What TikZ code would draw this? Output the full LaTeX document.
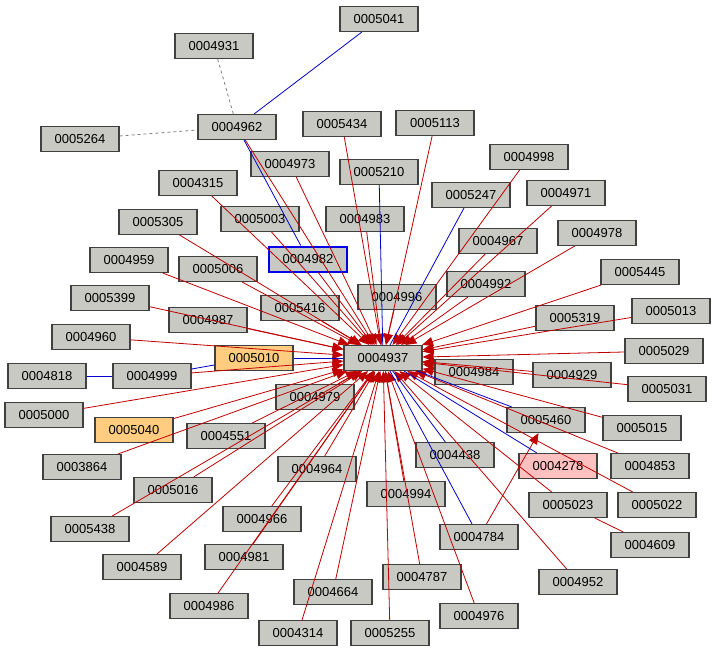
\documentclass[tikz,border=0pt]{standalone}
\usepackage{fontspec}
\setmainfont{Liberation Sans}
\usetikzlibrary{arrows.meta}
\begin{document}
\begin{tikzpicture}[x=1pt,y=-1pt,
 n/.style={draw=black!75,line width=1.1pt,fill={rgb,255:red,200;green,201;blue,194},minimum width=78pt,minimum height=25pt,inner sep=0pt,font=\fontsize{13}{15}\selectfont},
 r/.style={draw={rgb,255:red,192;green,0;blue,0},line width=0.8pt,-{Triangle[length=11pt,width=9pt]}},
 rr/.style={draw={rgb,255:red,192;green,0;blue,0},line width=0.8pt},
 b/.style={draw={rgb,255:red,0;green,0;blue,204},line width=0.8pt},
 d/.style={draw=gray,line width=0.8pt,dashed}]
\useasboundingbox (0,0) rectangle (718,654);
\node[n] (c) at (383,358) {0004937};
\foreach \nm/\x/\y in {0005041/379/19,0004931/214/46,0004962/237/127,0005264/80/139,0005434/342/124,0005113/435/123,0004973/290/164,0004998/529/157,0004315/198/183,0005210/379/172,0005247/471/195,0004971/566/193,0005305/158/222,0005003/260/219,0004983/365/219,0004967/498/241,0004978/597/233,0004959/129/260,0005006/218/269,0004992/486/284,0005445/640/272,0005399/110/298,0004996/397/297,0005416/300/308,0005013/671/311,0004987/208/320,0005319/575/318,0004960/91/337,0005029/664/351,0004818/47/376,0004999/152/376,0004984/474/372,0004929/572/375,0005031/667/389,0005000/44/415,0004979/315/397,0004551/226/436,0005460/546/420,0005015/642/428,0004438/455/455,0003864/82/467,0004964/317/469,0004853/650/466,0005016/173/490,0004994/406/494,0005023/568/505,0005022/657/505,0005438/90/529,0004966/262/519,0004784/479/537,0004609/650/545,0004589/142/567,0004981/244/557,0004787/422/577,0004952/578/582,0004986/209/606,0004664/333/592,0004976/479/616,0004314/298/633,0005255/390/633}
  {\node[n] (n\nm) at (\x,\y) {\nm};}
\node[n,draw={rgb,255:red,0;green,0;blue,230},line width=2pt] (n0004982) at (308,259) {0004982};
\node[n,fill={rgb,255:red,255;green,204;blue,128}] (n0005010) at (254,358) {0005010};
\node[n,fill={rgb,255:red,255;green,204;blue,128}] (n0005040) at (134,430) {0005040};
\node[n,fill={rgb,255:red,255;green,192;blue,192}] (n0004278) at (558,466) {0004278};
\foreach \nm in {0004962,0005434,0005113,0004973,0004998,0004315,0004971,0005305,0005003,0004983,0004967,0004978,0004959,0004982,0005006,0004992,0005445,0005399,0004996,0005416,0005013,0004987,0005319,0004960,0005029,0004999,0004984,0004929,0005031,0005000,0004979,0005040,0004551,0005015,0003864,0004964,0004853,0005016,0004994,0005023,0005022,0005438,0004966,0004589,0004981,0004787,0004952,0004986,0004664,0004976,0004314,0005255}
  {\draw[r] (n\nm) -- (c);}
\draw[r] (n0004784) -- (n0005460);
\draw[rr] (n0005023) -- (n0004609);
\foreach \nm in {0005210,0005247,0005460,0004278,0004438,0004784,0005010}
  {\draw[b] (n\nm) -- (c);}
\draw[b] (n0005041) -- (n0004962);
\draw[b] (n0004962) -- (n0004982);
\draw[b] (n0004818) -- (n0004999);
\draw[b] (n0004999) -- (n0005010);
\draw[d] (n0004931) -- (n0004962);
\draw[d] (n0005264) -- (n0004962);
\end{tikzpicture}
\end{document}
